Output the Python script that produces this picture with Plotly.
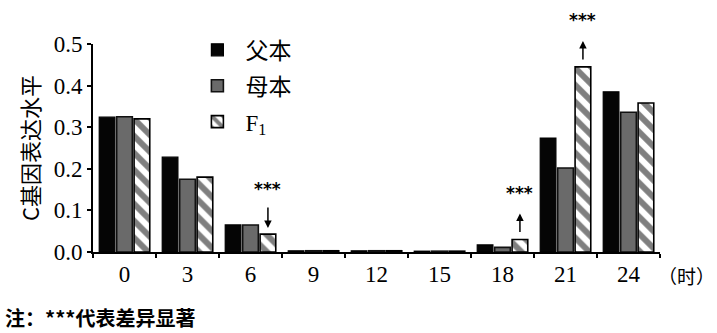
import plotly.graph_objects as go

# C gene expression level at each sampling hour
hours = ["0", "3", "6", "9", "12", "15", "18", "21", "24"]
father = [0.324, 0.228, 0.065, 0.003, 0.003, 0.002, 0.017, 0.274, 0.385]
mother = [0.325, 0.175, 0.065, 0.003, 0.003, 0.002, 0.011, 0.202, 0.336]
f1 = [0.320, 0.180, 0.043, 0.003, 0.003, 0.002, 0.030, 0.445, 0.358]

# hours where F1 differs significantly, and arrow direction
sig_hours = ["6", "18", "21"]
sig_dirs = ["down", "up", "up"]

W, H = 717, 333
ML, MR, MT, MB = 93, 57, 44, 81
BARGAP, GROUPGAP = 0.17, 0.1

SERIF = "Liberation Serif, Noto Sans CJK SC"
CJK = "Noto Sans CJK SC"

fig = go.Figure()
fig.add_bar(x=hours, y=father, name="父本", legendgroup="a",
            marker=dict(color="#050505", line=dict(color="#000", width=1.2)))
fig.add_bar(x=hours, y=mother, name="母本", legendgroup="b",
            marker=dict(color="#6a6a6a", line=dict(color="#111", width=1.6)))
fig.add_bar(x=hours, y=f1, name="F<sub>1</sub>", legendgroup="c",
            marker=dict(color="white", line=dict(color="#000", width=1.6),
                        pattern=dict(shape="\\", fgcolor="#000", bgcolor="white",
                                     size=12, solidity=0.5)))

# F1 bar centre, in category-index units, relative to its category centre
slot = (1 - BARGAP) / 3

for h, d in zip(sig_hours, sig_dirs):
    i = hours.index(h)
    v = f1[i]
    xc = i + slot
    if d == "down":
        fig.add_annotation(x=xc, y=v, yshift=6, ax=0, ay=-22,
                           text="", showarrow=True, arrowhead=2, arrowsize=1,
                           arrowwidth=1.5, arrowcolor="#000")
        star_shift = 45
    else:
        fig.add_annotation(x=xc, y=v, yshift=26, ax=0, ay=20,
                           text="", showarrow=True, arrowhead=2, arrowsize=1,
                           arrowwidth=1.5, arrowcolor="#000")
        star_shift = 47
    fig.add_annotation(x=xc, y=v, yshift=star_shift, text="<b>***</b>",
                       showarrow=False,
                       font=dict(family="DejaVu Sans", size=17, color="#000"))

fig.add_annotation(xref="paper", yref="paper", x=1.0, xshift=-4, y=0, yshift=-23,
                   xanchor="left", yanchor="middle", text="（时）", showarrow=False,
                   font=dict(family=CJK, size=19, color="#000"))
fig.add_annotation(xref="paper", yref="paper", x=0, xshift=-ML + 3, y=0,
                   yshift=-(MB - 16), xanchor="left", yanchor="middle",
                   text="<b>注：***代表差异显著</b>", showarrow=False,
                   font=dict(family=CJK, size=20, color="#000"))

fig.update_layout(
    width=W, height=H,
    margin=dict(l=ML, r=MR, t=MT, b=MB),
    paper_bgcolor="white", plot_bgcolor="white",
    barmode="group", bargap=BARGAP, bargroupgap=GROUPGAP,
    showlegend=True,
    legend=dict(x=0.17, y=1.075, xanchor="left", yanchor="top",
                bgcolor="rgba(0,0,0,0)", tracegroupgap=3, itemwidth=46,
                font=dict(family=SERIF, size=23, color="#000")),
    xaxis=dict(type="category", range=[-0.5, len(hours) - 0.5],
               showline=True, linecolor="#000", linewidth=2,
               ticks="outside", tickson="boundaries", ticklen=4, tickwidth=2,
               tickcolor="#000", showgrid=False, zeroline=False, tickangle=0,
               tickfont=dict(family=SERIF, size=23, color="#000")),
    yaxis=dict(range=[0, 0.5], dtick=0.1, tickformat=".1f", showline=True,
               linecolor="#000", linewidth=2, ticks="outside", ticklen=4,
               tickwidth=2, tickcolor="#000", showgrid=False, zeroline=False,
               tickfont=dict(family=SERIF, size=23, color="#000"),
               title=dict(text="C基因表达水平", standoff=8,
                          font=dict(family=CJK, size=22, color="#000"))),
)

fig.write_html("out.html")
